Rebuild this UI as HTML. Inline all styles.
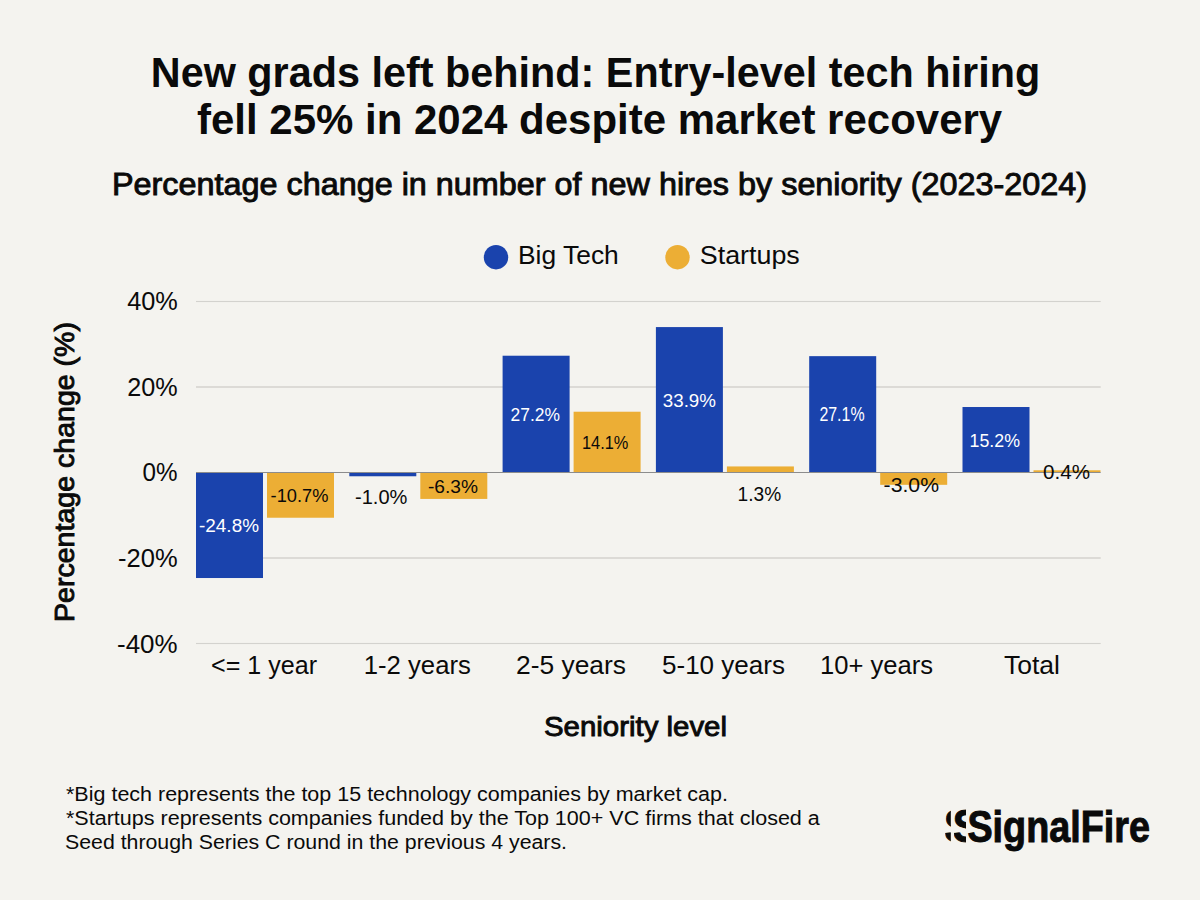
<!DOCTYPE html>
<html><head><meta charset="utf-8"><style>
html,body{margin:0;padding:0;background:#f4f3ef;}
svg{display:block;font-family:"Liberation Sans",sans-serif;}
</style></head><body>
<svg width="1200" height="900" viewBox="0 0 1200 900">
<rect x="196" y="300.95" width="904.7" height="1.10" fill="#d3d2ce"/>
<rect x="196" y="386.25" width="904.7" height="1.50" fill="#d3d2ce"/>
<rect x="196" y="557.25" width="904.7" height="1.50" fill="#d3d2ce"/>
<rect x="196" y="642.95" width="904.7" height="1.10" fill="#d3d2ce"/>
<rect x="196.00" y="472.00" width="67" height="106.02" fill="#1a43ad"/>
<rect x="267.00" y="472.00" width="67" height="45.74" fill="#ecae35"/>
<rect x="349.30" y="472.00" width="67" height="4.27" fill="#1a43ad"/>
<rect x="420.30" y="472.00" width="67" height="26.93" fill="#ecae35"/>
<rect x="502.60" y="355.72" width="67" height="116.28" fill="#1a43ad"/>
<rect x="573.60" y="411.72" width="67" height="60.28" fill="#ecae35"/>
<rect x="655.90" y="327.08" width="67" height="144.92" fill="#1a43ad"/>
<rect x="726.90" y="466.44" width="67" height="5.56" fill="#ecae35"/>
<rect x="809.20" y="356.15" width="67" height="115.85" fill="#1a43ad"/>
<rect x="880.20" y="472.00" width="67" height="12.82" fill="#ecae35"/>
<rect x="962.50" y="407.02" width="67" height="64.98" fill="#1a43ad"/>
<rect x="1033.50" y="470.29" width="67" height="1.71" fill="#ecae35"/>
<rect x="196" y="472" width="904.7" height="1" fill="#8c8c8c"/>
<circle cx="496" cy="257.2" r="12.2" fill="#1a43ad"/>
<circle cx="677.5" cy="257.2" r="12.2" fill="#ecae35"/>
<defs>
<clipPath id="c1" clipPathUnits="userSpaceOnUse"><rect x="945.30" y="800" width="5.50" height="30.80"/><rect x="945.30" y="832.50" width="5.50" height="20"/></clipPath>
<clipPath id="c2" clipPathUnits="userSpaceOnUse"><rect x="954.00" y="800" width="12.00" height="30.80"/><rect x="954.00" y="832.50" width="12.00" height="20"/></clipPath>
</defs>
<g clip-path="url(#c1)"><g transform="translate(944.11 842.00) scale(0.905 1)"><text x="0" y="0" font-size="45.50" font-weight="bold" fill="#0a0a0a" stroke="#0a0a0a" stroke-width="1.0">S</text></g></g>
<g clip-path="url(#c2)"><g transform="translate(952.81 842.00) scale(0.905 1)"><text x="0" y="0" font-size="45.50" font-weight="bold" fill="#0a0a0a" stroke="#0a0a0a" stroke-width="1.0">S</text></g></g>
<text x="150.80" y="87.00" font-size="42.73" font-weight="bold" fill="#0a0a0a" textLength="889.40" lengthAdjust="spacingAndGlyphs">New grads left behind: Entry-level tech hiring</text>
<text x="197.00" y="134.10" font-size="42.73" font-weight="bold" fill="#0a0a0a" textLength="805.20" lengthAdjust="spacingAndGlyphs">fell 25% in 2024 despite market recovery</text>
<text x="112.00" y="195.00" font-size="30.52" font-weight="normal" stroke="#0a0a0a" stroke-width="0.90" fill="#0a0a0a" textLength="975.00" lengthAdjust="spacingAndGlyphs">Percentage change in number of new hires by seniority (2023-2024)</text>
<text x="518.00" y="264.00" font-size="25.15" font-weight="normal" fill="#0a0a0a" textLength="100.80" lengthAdjust="spacingAndGlyphs">Big Tech</text>
<text x="699.80" y="264.00" font-size="25.15" font-weight="normal" fill="#0a0a0a" textLength="100.00" lengthAdjust="spacingAndGlyphs">Startups</text>
<text x="127.20" y="310.00" font-size="26.16" font-weight="normal" fill="#0a0a0a" textLength="50.60" lengthAdjust="spacingAndGlyphs">40%</text>
<text x="127.20" y="396.30" font-size="26.16" font-weight="normal" fill="#0a0a0a" textLength="50.40" lengthAdjust="spacingAndGlyphs">20%</text>
<text x="142.60" y="481.20" font-size="26.16" font-weight="normal" fill="#0a0a0a" textLength="35.00" lengthAdjust="spacingAndGlyphs">0%</text>
<text x="118.00" y="567.10" font-size="26.16" font-weight="normal" fill="#0a0a0a" textLength="59.60" lengthAdjust="spacingAndGlyphs">-20%</text>
<text x="117.00" y="652.60" font-size="26.16" font-weight="normal" fill="#0a0a0a" textLength="60.60" lengthAdjust="spacingAndGlyphs">-40%</text>
<text x="211.00" y="674.00" font-size="25.58" font-weight="normal" fill="#0a0a0a" textLength="106.00" lengthAdjust="spacingAndGlyphs">&lt;= 1 year</text>
<text x="363.80" y="674.00" font-size="25.58" font-weight="normal" fill="#0a0a0a" textLength="107.00" lengthAdjust="spacingAndGlyphs">1-2 years</text>
<text x="516.00" y="674.00" font-size="25.58" font-weight="normal" fill="#0a0a0a" textLength="110.00" lengthAdjust="spacingAndGlyphs">2-5 years</text>
<text x="662.00" y="674.00" font-size="25.58" font-weight="normal" fill="#0a0a0a" textLength="123.00" lengthAdjust="spacingAndGlyphs">5-10 years</text>
<text x="820.00" y="674.00" font-size="25.58" font-weight="normal" fill="#0a0a0a" textLength="113.00" lengthAdjust="spacingAndGlyphs">10+ years</text>
<text x="1004.00" y="674.00" font-size="25.58" font-weight="normal" fill="#0a0a0a" textLength="56.00" lengthAdjust="spacingAndGlyphs">Total</text>
<text x="544.00" y="735.90" font-size="27.33" font-weight="normal" stroke="#0a0a0a" stroke-width="0.90" fill="#0a0a0a" textLength="183.00" lengthAdjust="spacingAndGlyphs">Seniority level</text>
<text x="66.00" y="800.50" font-size="19.91" font-weight="normal" fill="#0a0a0a" textLength="662.00" lengthAdjust="spacingAndGlyphs">*Big tech represents the top 15 technology companies by market cap.</text>
<text x="66.00" y="824.50" font-size="19.91" font-weight="normal" fill="#0a0a0a" textLength="753.80" lengthAdjust="spacingAndGlyphs">*Startups represents companies funded by the Top 100+ VC firms that closed a</text>
<text x="65.00" y="848.50" font-size="19.91" font-weight="normal" fill="#0a0a0a" textLength="502.00" lengthAdjust="spacingAndGlyphs">Seed through Series C round in the previous 4 years.</text>
<text x="967.40" y="841.50" font-size="44.33" font-weight="bold" stroke="#0a0a0a" stroke-width="1.0" fill="#0a0a0a" textLength="182.60" lengthAdjust="spacingAndGlyphs">SignalFire</text>
<text x="199.00" y="531.90" font-size="18.90" font-weight="normal" fill="#ffffff" textLength="60.00" lengthAdjust="spacingAndGlyphs">-24.8%</text>
<text x="270.60" y="502.25" font-size="18.90" font-weight="normal" fill="#0a0a0a" textLength="57.80" lengthAdjust="spacingAndGlyphs">-10.7%</text>
<text x="355.00" y="503.75" font-size="20.93" font-weight="normal" fill="#0a0a0a" textLength="52.40" lengthAdjust="spacingAndGlyphs">-1.0%</text>
<text x="428.00" y="492.75" font-size="18.75" font-weight="normal" fill="#0a0a0a" textLength="50.00" lengthAdjust="spacingAndGlyphs">-6.3%</text>
<text x="510.60" y="421.00" font-size="18.90" font-weight="normal" fill="#ffffff" textLength="49.40" lengthAdjust="spacingAndGlyphs">27.2%</text>
<text x="582.00" y="448.75" font-size="18.31" font-weight="normal" fill="#0a0a0a" textLength="46.40" lengthAdjust="spacingAndGlyphs">14.1%</text>
<text x="662.80" y="406.70" font-size="18.31" font-weight="normal" fill="#ffffff" textLength="53.20" lengthAdjust="spacingAndGlyphs">33.9%</text>
<text x="737.60" y="500.70" font-size="20.06" font-weight="normal" fill="#0a0a0a" textLength="43.60" lengthAdjust="spacingAndGlyphs">1.3%</text>
<text x="819.40" y="421.25" font-size="19.33" font-weight="normal" fill="#ffffff" textLength="45.20" lengthAdjust="spacingAndGlyphs">27.1%</text>
<text x="883.60" y="491.90" font-size="20.93" font-weight="normal" fill="#0a0a0a" textLength="55.40" lengthAdjust="spacingAndGlyphs">-3.0%</text>
<text x="969.60" y="446.90" font-size="18.60" font-weight="normal" fill="#ffffff" textLength="50.40" lengthAdjust="spacingAndGlyphs">15.2%</text>
<text x="1043.00" y="478.75" font-size="20.35" font-weight="normal" fill="#0a0a0a" textLength="47.00" lengthAdjust="spacingAndGlyphs">0.4%</text>
<g transform="translate(73.80 622.00) rotate(-90)"><text x="0" y="0" font-size="26.89" font-weight="normal" stroke="#0a0a0a" stroke-width="0.90" fill="#0a0a0a" textLength="300.00" lengthAdjust="spacingAndGlyphs">Percentage change (%)</text></g>
</svg>
</body></html>
